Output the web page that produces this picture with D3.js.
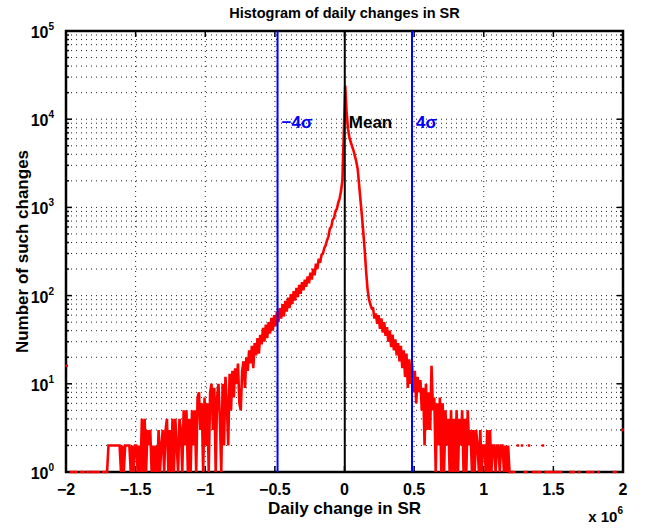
<!DOCTYPE html>
<meta charset="utf-8">
<style>
body { margin: 0; background: #fff; }
svg text { font-family: "Liberation Sans", Arial, sans-serif; font-weight: bold; }
.grid line { stroke: #222; stroke-width: 1; stroke-dasharray: 1,4; }
</style>
<svg width="648" height="528"></svg>
<script src="https://cdn.jsdelivr.net/npm/d3@7"></script>
<script>
// histogram bins: 400 bins of width 1e4 from -2e6 to 2e6
var binStart = -2e6, binWidth = 1e4;
var counts = [
  16,0,0,1,1,0,1,1,0,0,  1,1,1,0,0,1,1,0,1,1,  1,0,1,1,0,0,1,1,1,1,
  2,2,2,2,2,2,2,2,2,1,  2,1,2,2,2,2,1,2,1,2,  2,1,2,1,4,1,4,1,3,2,
  3,1,2,1,2,1,3,1,2,3,  1,3,4,1,3,1,4,1,4,2,  1,4,3,1,5,2,5,1,4,1,
  5,2,5,1,7,8,3,6,1,7,  2,6,1,8,10,3,9,1,7,10,  4,1,10,2,12,6,2,13,5,14,
  7,15,10,17,6,5,14,18,9,20,  14,24,17,27,15,29,21,33,22,36,
  28,43,30,47,33,50,37,56,40,60,  45,66,50,72,55,80,58,87,66,95,
  72,104,80,112,88,122,96,132,105,142,  115,152,126,165,138,182,152,202,170,230,
  200,262,235,290,300,345,375,425,470,575,  600,725,760,905,960,1130,1260,1530,2040,7000,
  24000,12000,7800,6200,5500,4900,4400,3800,3300,2700,
  1800,1200,800,520,330,190,120,92,80,72,
  72,55,63,48,60,42,55,38,50,35,  44,30,40,26,36,24,32,21,29,18,
  27,15,24,12,22,9,19,10,17,8,  14,6,12,8,11,5,9,2,10,3,
  8,3,16,5,7,1,6,2,7,1,  6,1,5,2,4,1,5,1,4,1,  5,1,4,2,5,1,4,1,5,2,
  3,1,3,1,3,2,1,3,1,2,  2,1,3,1,3,1,2,2,1,2,  2,1,2,2,1,2,1,2,1,0,
  1,1,0,0,2,0,0,2,0,1,  1,0,2,0,0,1,1,0,1,1,  1,0,2,0,1,1,1,0,1,1,
  0,1,1,0,1,1,0,0,0,0,  0,0,1,1,1,0,0,0,1,0,  0,0,0,0,1,1,0,1,1,0,
  0,0,1,0,0,0,0,0,0,0,  0,0,0,1,1,0,0,0,0,3
];
var meanVal = 2000, sigmaVal = 120700;
var markers = [
  {v: meanVal - 4 * sigmaVal, label: "\u22124\u03c3", color: "#0000ff"},
  {v: meanVal, label: "Mean", color: "#000"},
  {v: meanVal + 4 * sigmaVal, label: "4\u03c3", color: "#0000ff"}
];
var xTicks = [-2e6, -1.5e6, -1e6, -0.5e6, 0, 0.5e6, 1e6, 1.5e6, 2e6];
var xTickLabels = ["\u22122", "\u22121.5", "\u22121", "\u22120.5", "0", "0.5", "1", "1.5", "2"];
var yDecades = [0, 1, 2, 3, 4, 5];

var svg = d3.select("svg"),
    pl = 66, pr = 623, pt = 31, pb = 472;

var x = d3.scaleLinear().domain([-2e6, 2e6]).range([pl, pr]);
var y = d3.scaleLog().domain([1, 1e5]).range([pb, pt]);

var data = counts.map(function(c, i) {
  return {v: binStart + (i + 0.5) * binWidth, c: c};
});

var minorY = [];
yDecades.slice(0, -1).forEach(function(k) {
  for (var m = 1; m <= 9; m++) minorY.push(m * Math.pow(10, k));
});

// grid
var grid = svg.append("g").attr("class", "grid");
grid.selectAll(".h").data(minorY.filter(function(v) { return v > 1; }))
  .enter().append("line")
    .attr("x1", pl).attr("x2", pr)
    .attr("y1", function(d) { return y(d); })
    .attr("y2", function(d) { return y(d); });
grid.selectAll(".v").data(xTicks.slice(1, -1))
  .enter().append("line")
    .attr("x1", function(d) { return x(d); })
    .attr("x2", function(d) { return x(d); })
    .attr("y1", pt).attr("y2", pb);

// ticks (inward) on all four sides
var ax = svg.append("g").attr("stroke", "#000").attr("stroke-width", 1.5);
xTicks.forEach(function(t) {
  ax.append("line").attr("x1", x(t)).attr("x2", x(t)).attr("y1", pb).attr("y2", pb - 6);
  ax.append("line").attr("x1", x(t)).attr("x2", x(t)).attr("y1", pt).attr("y2", pt + 6);
});
minorY.concat([1e5]).forEach(function(v) {
  var major = Math.abs(Math.log10(v) - Math.round(Math.log10(v))) < 1e-9;
  var len = major ? 6 : 3;
  ax.append("line").attr("x1", pl).attr("x2", pl + len).attr("y1", y(v)).attr("y2", y(v));
  ax.append("line").attr("x1", pr).attr("x2", pr - len).attr("y1", y(v)).attr("y2", y(v));
});
svg.append("rect")
  .attr("x", pl).attr("y", pt)
  .attr("width", pr - pl).attr("height", pb - pt)
  .attr("fill", "none").attr("stroke", "#000").attr("stroke-width", 2.5);

// histogram line
svg.append("defs").append("clipPath").attr("id", "clip")
  .append("rect").attr("x", pl - 2).attr("y", pt - 2)
  .attr("width", pr - pl + 4).attr("height", pb - pt + 4);

var line = d3.line()
  .defined(function(d) { return d.c > 0; })
  .x(function(d) { return x(d.v); })
  .y(function(d) { return y(d.c); });

svg.append("path")
  .datum(data)
  .attr("clip-path", "url(#clip)")
  .attr("fill", "none")
  .attr("stroke", "#ff0000")
  .attr("stroke-width", 2.6)
  .attr("stroke-linejoin", "miter")
  .attr("stroke-linecap", "square")
  .attr("d", line);

// mean and +-4 sigma lines
svg.selectAll(".marker").data(markers)
  .enter().append("line")
    .attr("x1", function(d) { return x(d.v); })
    .attr("x2", function(d) { return x(d.v); })
    .attr("y1", pt).attr("y2", pb)
    .attr("stroke", function(d) { return d.color; })
    .attr("stroke-width", 2);

svg.selectAll(".mlabel").data(markers)
  .enter().append("text")
    .attr("x", function(d) { return x(d.v) + 4; })
    .attr("y", y(1e4) + 9)
    .attr("font-size", 17)
    .attr("fill", function(d) { return d.color; })
    .text(function(d) { return d.label; });

// tick labels
svg.selectAll(".xl").data(xTicks)
  .enter().append("text")
    .attr("x", function(d) { return x(d); })
    .attr("y", pb + 23)
    .attr("text-anchor", "middle")
    .attr("font-size", 16)
    .text(function(d, i) { return xTickLabels[i]; });

var yl = svg.selectAll(".yl").data(yDecades)
  .enter().append("text")
    .attr("x", pl - 12)
    .attr("y", function(d) { return y(Math.pow(10, d)) + 7; })
    .attr("text-anchor", "end")
    .attr("font-size", 16);
yl.append("tspan").text("10");
yl.append("tspan").attr("dy", -8).attr("font-size", 10).text(function(d) { return d; });

// titles
svg.append("text")
  .attr("x", (pl + pr) / 2).attr("y", 18)
  .attr("text-anchor", "middle").attr("font-size", 14.5)
  .text("Histogram of daily changes in SR");

svg.append("text")
  .attr("x", (pl + pr) / 2).attr("y", 514)
  .attr("text-anchor", "middle").attr("font-size", 17)
  .text("Daily change in SR");

svg.append("text")
  .attr("transform", "translate(28," + (pt + pb) / 2 + ") rotate(-90)")
  .attr("text-anchor", "middle").attr("font-size", 17)
  .text("Number of such changes");

var ex = svg.append("text")
  .attr("x", pr).attr("y", 522)
  .attr("text-anchor", "end").attr("font-size", 15);
ex.append("tspan").text("x 10");
ex.append("tspan").attr("dy", -8).attr("font-size", 10).text("6");
</script>
